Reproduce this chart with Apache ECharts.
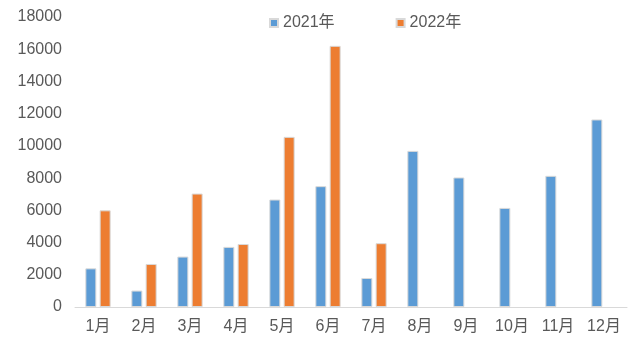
<!DOCTYPE html>
<html>
<head>
<meta charset="utf-8">
<script src="https://cdn.jsdelivr.net/npm/echarts@6/dist/echarts.min.js"></script>
<style>
  html, body { margin: 0; padding: 0; background: #fff; }
  #main { width: 640px; height: 354px; }
</style>
</head>
<body>
<div id="main"></div>
<script>
const months = ['1月', '2月', '3月', '4月', '5月', '6月', '7月', '8月', '9月', '10月', '11月', '12月'];
const data2021 = [2400, 1020, 3130, 3730, 6670, 7500, 1800, 9690, 8040, 6150, 8140, 11640];
const data2022 = [6000, 2670, 7040, 3910, 10560, 16210, 3960, '-', '-', '-', '-', '-'];

const font = '"Liberation Sans", "Noto Sans CJK SC", sans-serif';
const chart = echarts.init(document.getElementById('main'));

chart.setOption({
    animation: false,
    textStyle: { fontFamily: font },
    legend: {
        data: ['2021年', '2022年'],
        top: 10,
        left: 264,
        itemWidth: 8,
        itemHeight: 8,
        itemGap: 61,
        icon: 'rect',
        textStyle: { color: '#595959', fontSize: 16, fontFamily: font }
    },
    grid: { left: 75, right: 13, top: 17, bottom: 47 },
    xAxis: {
        type: 'category',
        data: months,
        axisLine: { lineStyle: { color: '#d9d9d9' } },
        axisTick: { show: false },
        axisLabel: { color: '#595959', fontSize: 16, margin: 12, fontFamily: font }
    },
    yAxis: {
        type: 'value',
        min: 0,
        max: 18000,
        interval: 2000,
        axisLine: { show: false },
        axisTick: { show: false },
        splitLine: { show: false },
        axisLabel: {
            color: '#595959', fontSize: 16, margin: 13, fontFamily: font,
            formatter: function (v) { return String(v); }
        }
    },
    series: [
        {
            name: '2021年',
            type: 'bar',
            data: data2021,
            barWidth: 11,
            barGap: '30%',
            itemStyle: { color: '#5b9bd5', borderColor: '#d9d9d9', borderWidth: 1 }
        },
        {
            name: '2022年',
            type: 'bar',
            data: data2022,
            barWidth: 11,
            itemStyle: { color: '#ed7d31', borderColor: '#d9d9d9', borderWidth: 1 }
        }
    ]
});
</script>
</body>
</html>
